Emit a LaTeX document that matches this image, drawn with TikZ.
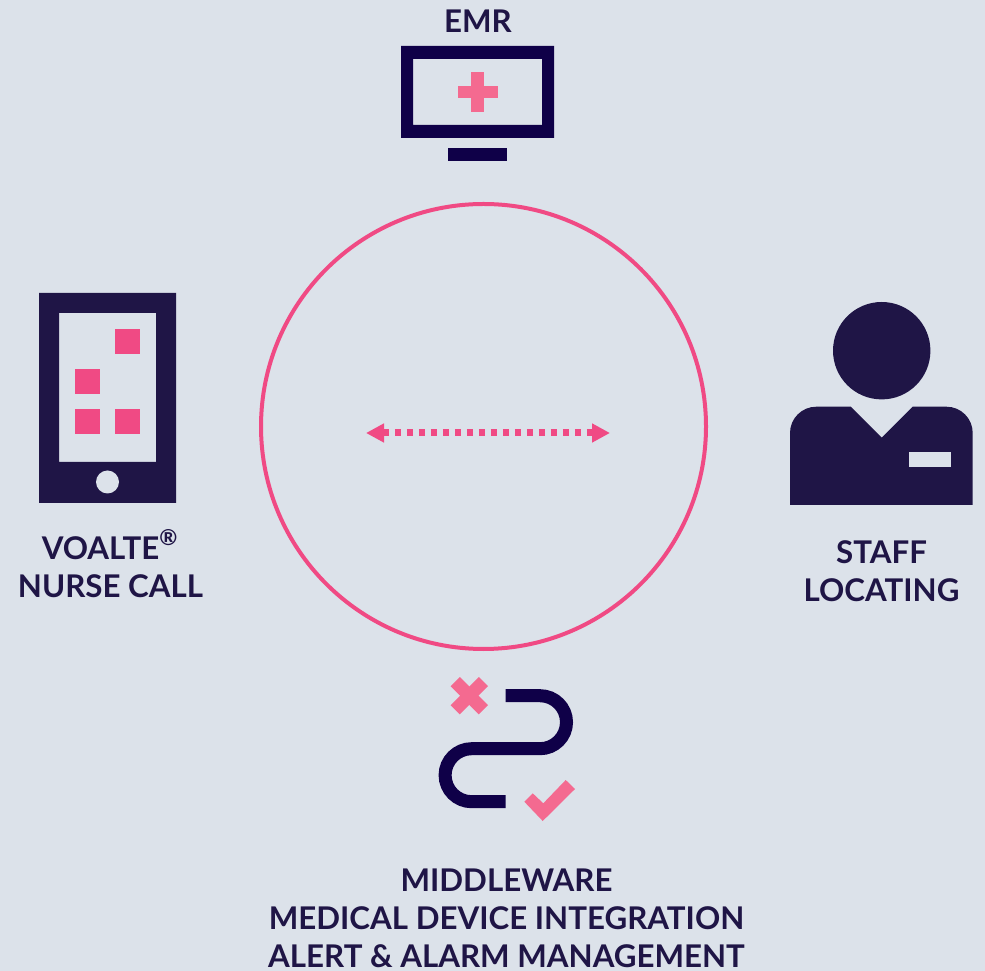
\documentclass[tikz,border=0pt]{standalone}
\usepackage{fontspec}
\setmainfont{Lato}
\usetikzlibrary{arrows.meta}
\definecolor{bggrey}{HTML}{DCE2EA}
\definecolor{navyicon}{HTML}{0F0048}
\definecolor{navytext}{HTML}{1F1546}
\definecolor{pinkicon}{HTML}{F46A90}
\definecolor{pinkline}{HTML}{F04A84}
\tikzset{
	labeltext/.style = {inner sep = 0pt, align = center, text = navytext, font = \fontsize{8.9}{10.8}\selectfont\bfseries},
	bendline/.style = {color = navyicon, line width = 0.13cm},
	crossbar/.style = {color = pinkicon, line width = 0.13cm}
}
\begin{document}
\begin{tikzpicture}
		\fill[bggrey] (0,0) rectangle (9.85,-9.71);
		\useasboundingbox (0,0) rectangle (9.85,-9.71);
		% monitor
		\fill[navyicon, even odd rule] (4.01,-0.46) rectangle (5.54,-1.38) (4.13,-0.59) rectangle (5.42,-1.25);
		\fill[navyicon] (4.48,-1.48) rectangle (5.07,-1.61);
		\fill[pinkicon] (4.71,-0.72) rectangle (4.84,-1.12);
		\fill[pinkicon] (4.58,-0.86) rectangle (4.98,-0.985);
		\node[labeltext, anchor = base] (emr) at (4.78,-0.33) {EMR};
		% circle and arrow
		\draw[color = pinkline, line width = 0.04cm] (4.835,-4.265) circle (2.225);
		\coordinate (arrowleft) at (3.66,-4.33);
		\coordinate (arrowright) at (6.10,-4.33);
		\draw[{Triangle[length=0.18cm,width=0.18cm]}-{Triangle[length=0.18cm,width=0.18cm]}, color = pinkline, line width = 0.07cm, dash pattern = on 0.065cm off 0.055cm] (arrowleft) -- (arrowright);
		% phone
		\fill[navytext, even odd rule] (0.39,-2.93) rectangle (1.76,-5.03) (0.59,-3.13) rectangle (1.56,-4.62);
		\fill[bggrey] (1.075,-4.82) circle (0.115);
		\fill[pinkline] (1.15,-3.29) rectangle (1.40,-3.54);
		\fill[pinkline] (0.75,-3.69) rectangle (1.00,-3.94);
		\fill[pinkline] (0.75,-4.09) rectangle (1.00,-4.34);
		\fill[pinkline] (1.15,-4.09) rectangle (1.40,-4.34);
		\node[labeltext] (nursecall) at (1.105,-5.635) {VOALTE\textsuperscript{®}\\NURSE CALL};
		% person
		\fill[navytext] (8.817,-3.507) circle (0.487);
		\fill[navytext] (7.90,-5.05) -- (7.90,-4.33) arc (180:90:0.263) -- (8.507,-4.067) -- (8.817,-4.377) -- (9.127,-4.067) -- (9.464,-4.067) arc (90:0:0.263) -- (9.727,-5.05) -- cycle;
		\fill[bggrey] (9.09,-4.523) rectangle (9.51,-4.673);
		\node[labeltext] (stafflocating) at (8.815,-5.71) {STAFF\\LOCATING};
		% middleware
		\draw[bendline] (5.057,-6.957) -- (5.40,-6.957) arc (90:-90:0.265) -- (4.716,-7.487) arc (90:270:0.265) -- (5.057,-8.017);
		\draw[crossbar] (4.552,-6.816) -- (4.834,-7.098);
		\draw[crossbar] (4.834,-6.816) -- (4.552,-7.098);
		\fill[pinkicon] (5.243,-8.017) -- (5.327,-7.933) -- (5.433,-8.033) -- (5.657,-7.80) -- (5.75,-7.89) -- (5.427,-8.21) -- cycle;
		\node[labeltext] (middleware) at (5.065,-9.18) {MIDDLEWARE\\MEDICAL DEVICE INTEGRATION\\ALERT \& ALARM MANAGEMENT};
		\end{tikzpicture}
\end{document}
